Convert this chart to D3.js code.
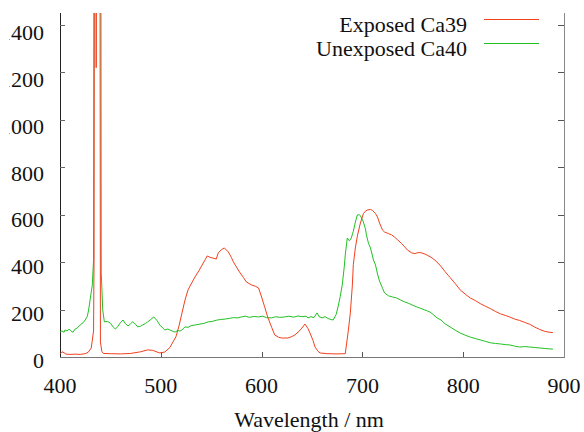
<!DOCTYPE html>
<html>
<head>
<meta charset="utf-8">
<script src="https://cdn.jsdelivr.net/npm/d3@7"></script>
<style>
body { margin: 0; background: #fff; }
svg text { font-family: "Liberation Serif", "Times New Roman", serif; font-size: 22px; fill: #111; }
</style>
</head>
<body>
<script>
// Exposed Ca39 (wavelength nm, intensity)
var exposedX = [400,402,404,406,410,415,420,425,428,431,433.3,433.8,434.4,435.4,435.9,436.5,439.4,440.1,441.5,443,450,460,470,480,487,492,499,504,509,512,515,518,521,524,527,531,534,538,541,544,546,549,551,555,557,560,563,567,570,572,575,578,582,585,590,594,597,600,603,606,610,613,617,620,626,630,633,637,640,643,646,648,651,653,656,658,665,675,683,686,688,690,691,693,695,698,701,703,705,708,710,713,715,717,720,722,726,729,732,735,739,742,745,749,752,755,758,762,765,769,772,775,778,782,785,787,792,797,802,807,812,817,822,827,832,837,842,846,851,856,861,866,871,876,881,886,889]
var exposedY = [13,22,18,12,11,12,11,14,20,38,110,430,3000,3000,1220,3000,3000,63,24,15,14,13,15,22,30,28,17,21,40,63,85,130,185,240,283,315,338,365,388,410,426,420,418,413,439,452,460,443,420,401,380,359,335,316,304,298,291,253,212,169,125,93,83,80,80,86,93,108,122,139,120,101,70,42,24,17,14,13,14,110,185,300,390,460,510,565,605,615,620,622,618,605,590,565,535,527,520,515,505,494,478,464,450,439,436,440,440,434,428,418,408,396,382,360,345,335,310,283,265,249,238,225,214,204,192,182,175,169,160,154,146,138,126,116,108,104,103]

// Unexposed Ca40
var unexposedX = [400,402,404,405,407,409,410,412,413,415,417,420,423,425,427,428,429,430,431,432,433.3,434.1,440.3,440.9,442.4,444,447,450,453,455,457,460,462.5,465,467.5,470,472,475,477,480,482,485,487,490,493,496,499,502,504,507,509,512,514,517,519,521,524,527,530,534,538,543,547,551,555,559,564,568,572,576,580,584,588,592,597,601,605,610,614,618,623,627,632,636,640,644,646,649,652,655,657,660,663,666,669,671,674,676,678,680,682,683,685,687,688,689,691,693,695,697,698,700,701,703,704,706,708,711,713,715,717,720,722,726,730,734,738,742,746,750,754,758,762,764,767,770,774,778,782,787,792,797,802,807,812,817,822,827,832,837,842,846,851,856,861,866,871,876,881,886,889]
var unexposedY = [105,110,104,114,110,117,114,106,105,118,122,135,145,156,170,190,215,245,274,300,410,3000,3000,358,198,148,150,143,125,118,127,145,156,140,131,140,148,138,127,130,135,142,148,158,169,155,135,122,114,118,114,108,105,112,109,114,127,125,132,135,138,142,148,150,155,158,160,163,166,165,169,172,167,171,169,172,166,165,170,167,169,172,168,173,170,172,165,170,166,186,170,165,170,162,158,156,180,215,255,304,380,430,502,490,494,502,530,569,599,600,595,580,569,540,515,480,460,409,388,350,320,290,270,258,253,249,240,232,226,218,211,205,198,195,190,180,165,156,140,127,113,101,92,84,78,72,66,60,57,55,52,51,46,42,44,42,40,38,36,34,33]

var xTicks = [400,500,600,700,800,900]
var yTicks = [0,200,400,600,800,1000,1200,1400]
var seriesNames = ["Exposed Ca39", "Unexposed Ca40"]
var seriesColors = ["#f0401e", "#22c022"]

var width = 584, height = 432
var plotLeft = 60, plotRight = 564, plotTop = 13, plotBottom = 357

var x = d3.scaleLinear().domain([400, 900]).range([plotLeft, plotRight])
var y = d3.scaleLinear().domain([0, 1400]).range([plotBottom, 25])
// tick labels sit a little below their ticks, slightly tighter spacing
var yLabel = d3.scaleLinear().domain([0, 1400]).range([368, 40])

var svg = d3.select("body")
	.append("svg")
	.attr("width", width)
	.attr("height", height)

var defs = svg.append("defs")

defs.append("clipPath")
	.attr("id", "plot")
	.append("rect")
	.attr("x", plotLeft)
	.attr("y", plotTop)
	.attr("width", plotRight - plotLeft)
	.attr("height", plotBottom - plotTop)

// the source picture is cropped on the left, cutting the leading digit
defs.append("clipPath")
	.attr("id", "crop")
	.append("rect")
	.attr("x", 9)
	.attr("y", 0)
	.attr("width", width)
	.attr("height", height)

// frame
svg.append("line")
	.attr("x1", plotLeft + 0.5).attr("y1", plotTop).attr("x2", plotLeft + 0.5).attr("y2", plotBottom)
	.attr("stroke", "#222")
svg.append("line")
	.attr("x1", plotRight + 0.5).attr("y1", plotTop).attr("x2", plotRight + 0.5).attr("y2", plotBottom + 1)
	.attr("stroke", "#888")
svg.append("line")
	.attr("x1", plotLeft).attr("y1", plotBottom + 0.5).attr("x2", plotRight + 0.5).attr("y2", plotBottom + 0.5)
	.attr("stroke", "#777")

var yLabels = svg.append("g").attr("clip-path", "url(#crop)")

// y ticks, mirrored on right
yTicks.forEach(function(t) {
	var yy = Math.round(y(t)) + 0.5
	if (t > 0) {
		svg.append("line")
			.attr("x1", plotLeft).attr("x2", plotLeft + 5).attr("y1", yy).attr("y2", yy)
			.attr("stroke", "#666")
		svg.append("line")
			.attr("x1", plotRight).attr("x2", plotRight - 6).attr("y1", yy).attr("y2", yy)
			.attr("stroke", "#555")
	}
	yLabels.append("text")
		.attr("x", 44)
		.attr("y", yLabel(t))
		.attr("text-anchor", "end")
		.text(t)
})

xTicks.forEach(function(t) {
	var xx = Math.round(x(t)) + 0.5
	if (t > 400 && t < 900) {
		svg.append("line")
			.attr("x1", xx).attr("x2", xx).attr("y1", plotBottom).attr("y2", plotBottom - 5)
			.attr("stroke", "#555")
	}
	svg.append("text")
		.attr("x", x(t))
		.attr("y", 393)
		.attr("text-anchor", "middle")
		.text(t)
})

svg.append("text")
	.attr("x", 309)
	.attr("y", 427)
	.attr("text-anchor", "middle")
	.text("Wavelength / nm")

var line = d3.line()
	.x(function(d) { return x(d[0]) })
	.y(function(d) { return y(d[1]) })

var series = [d3.zip(exposedX, exposedY), d3.zip(unexposedX, unexposedY)]

var g = svg.append("g").attr("clip-path", "url(#plot)")

// green first so red sits on top where they cross
;[1, 0].forEach(function(i) {
	g.append("path")
		.datum(series[i])
		.attr("d", line)
		.attr("fill", "none")
		.attr("stroke", seriesColors[i])
		.attr("stroke-width", 1)
})

// legend
seriesNames.forEach(function(name, i) {
	var ly = 19.5 + i * 24
	svg.append("text")
		.attr("x", 467)
		.attr("y", ly + 12)
		.attr("text-anchor", "end")
		.text(name)
	svg.append("line")
		.attr("x1", 484).attr("x2", 539).attr("y1", ly).attr("y2", ly)
		.attr("stroke", seriesColors[i])
})
</script>
</body>
</html>
